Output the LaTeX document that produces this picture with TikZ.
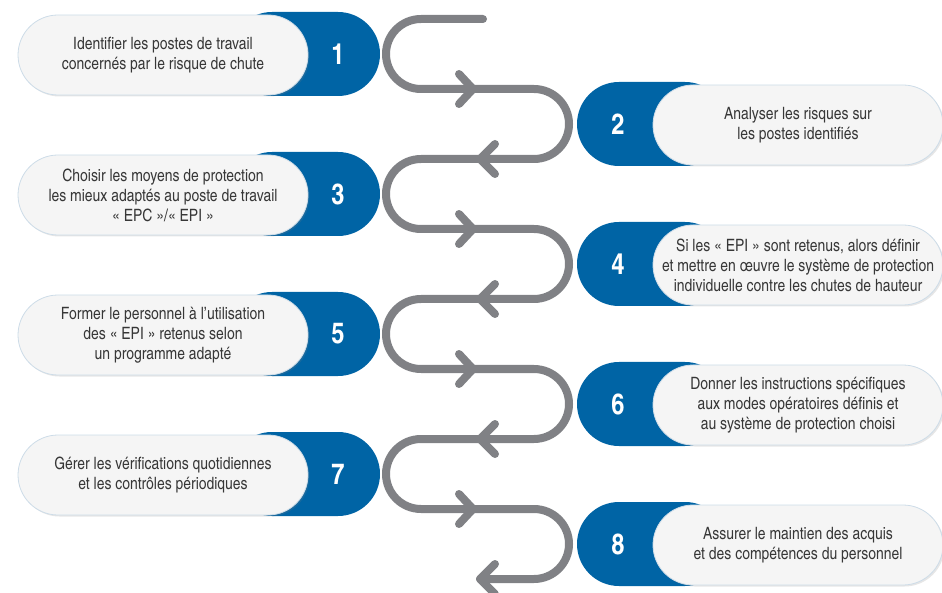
\documentclass[tikz,border=0pt]{standalone}
\usepackage{fontspec}
\setmainfont{TeX Gyre Heros Cn}
\usetikzlibrary{shapes.misc,shadows}
\definecolor{stepblue}{RGB}{0,100,165}
\definecolor{snakegray}{RGB}{128,129,133}
\definecolor{pillfill}{RGB}{245,245,245}
\definecolor{pillline}{RGB}{205,220,232}
\definecolor{txtgray}{RGB}{55,55,55}
\tikzset{
  bluepill/.style={rounded rectangle, fill=stepblue, minimum width=150pt, minimum height=84pt, inner sep=0pt},
  whitepill/.style={rounded rectangle, fill=pillfill, draw=pillline, line width=0.8pt, minimum width=290pt, minimum height=80pt, inner sep=0pt, drop shadow={opacity=0.2, shadow xshift=1.5pt, shadow yshift=-1.5pt}},
  stepnum/.style={text=white, font=\fontsize{29}{29}\selectfont\bfseries},
  steptext/.style={text=txtgray, align=center, font=\fontsize{17}{20}\selectfont},
  snake/.style={draw=snakegray, line width=8pt, line cap=round, line join=round}
}
\begin{document}
\begin{tikzpicture}[x=1pt,y=-1pt]
\useasboundingbox (0,0) rectangle (942,593);
\foreach \k in {0,...,3}
{
	\pgfmathtruncatemacro{\n}{2*\k+1}
	\node[bluepill] (blue\n) at (305,{54+140*\k}) {};
	\node[stepnum] (num\n) at (338,{54+140*\k}) {\n};
	\node[whitepill] (pill\n) at (163,{55+140*\k}) {};
}
\foreach \k in {0,...,3}
{
	\pgfmathtruncatemacro{\n}{2*\k+2}
	\node[bluepill] (blue\n) at (652,{124+140*\k}) {};
	\node[stepnum] (num\n) at (618,{124+140*\k}) {\n};
	\node[whitepill] (pill\n) at (798,{125+140*\k}) {};
}
\coordinate (snakestart) at (483,19);
\coordinate (snakeend) at (480,579);
\draw[snake] (snakestart) \foreach \k in {0,...,3}{ -- (421,{19+140*\k}) arc[start angle=270,end angle=90,radius=35] -- (534,{89+140*\k}) arc[start angle=-90,end angle=90,radius=35] } -- (snakeend);
\foreach \k in {0,...,3}
{
	\draw[snake] (459,{74+140*\k}) -- (473,{89+140*\k}) -- (459,{104+140*\k});
	\draw[snake] (495,{144+140*\k}) -- (480,{159+140*\k}) -- (495,{174+140*\k});
}
\node[steptext] (txt1) at (pill1) {Identifier les postes de travail\\concernés par le risque de chute};
\node[steptext] (txt2) at (pill2) {Analyser les risques sur\\les postes identifiés};
\node[steptext] (txt3) at (pill3) {Choisir les moyens de protection\\les mieux adaptés au poste de travail\\« EPC »/« EPI »};
\node[steptext] (txt4) at (pill4) {Si les « EPI » sont retenus, alors définir\\et mettre en œuvre le système de protection\\individuelle contre les chutes de hauteur};
\node[steptext] (txt5) at (pill5) {Former le personnel à l’utilisation\\des « EPI » retenus selon\\un programme adapté};
\node[steptext] (txt6) at (pill6) {Donner les instructions spécifiques\\aux modes opératoires définis et\\au système de protection choisi};
\node[steptext] (txt7) at (pill7) {Gérer les vérifications quotidiennes\\et les contrôles périodiques};
\node[steptext] (txt8) at (pill8) {Assurer le maintien des acquis\\et des compétences du personnel};
\end{tikzpicture}
\end{document}
